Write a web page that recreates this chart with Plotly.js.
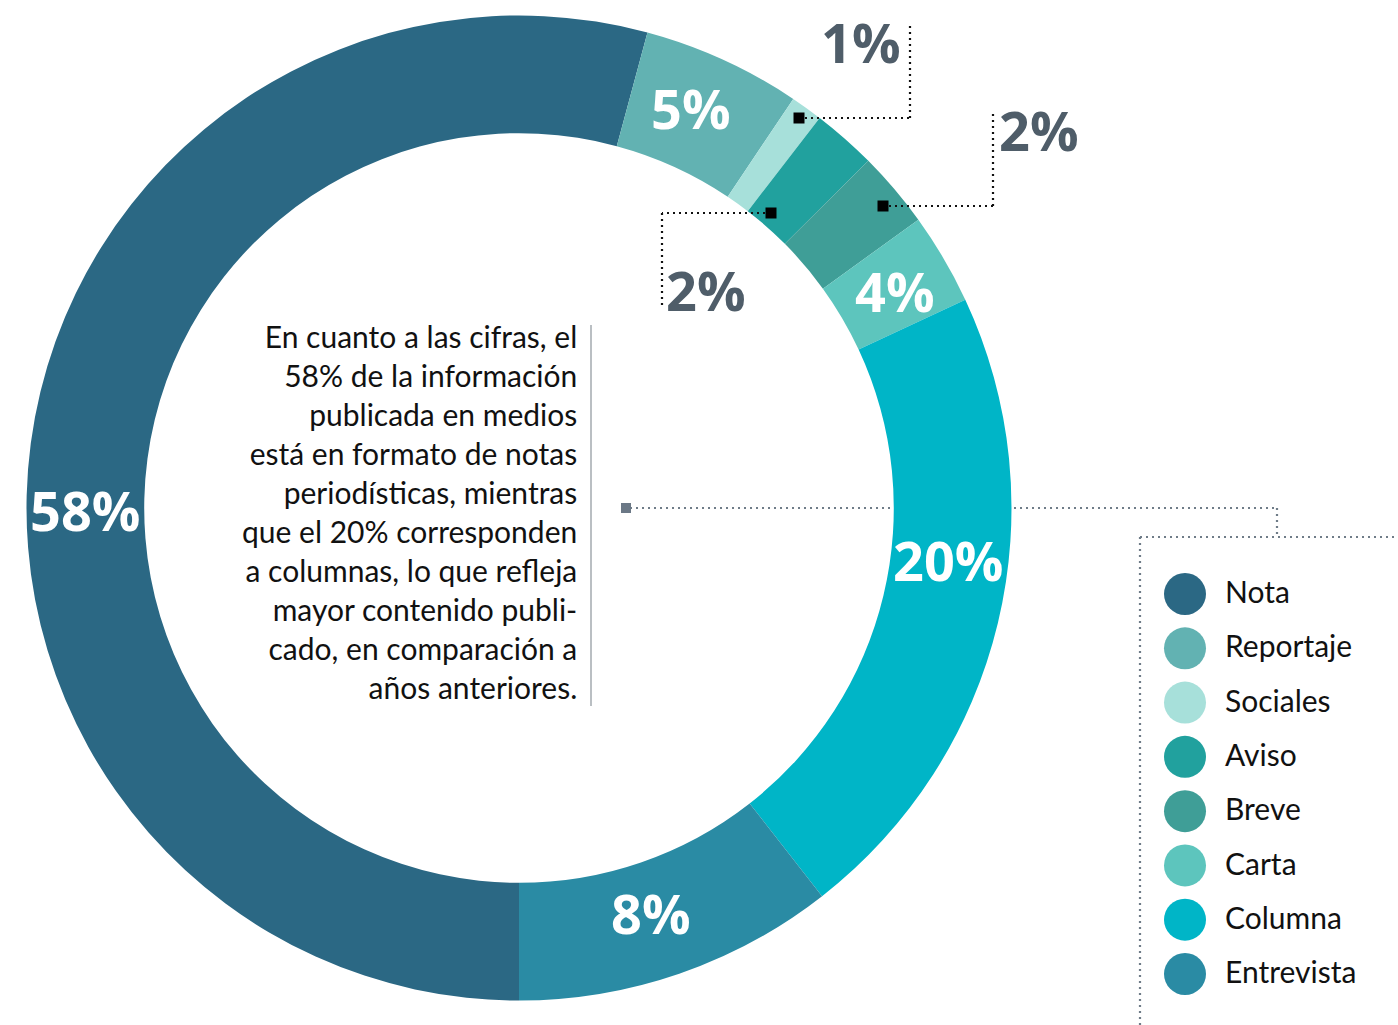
<!DOCTYPE html>
<html><head><meta charset="utf-8">
<script src="https://cdn.plot.ly/plotly-3.0.1.min.js"></script>
<style>html,body{margin:0;padding:0;background:#fff;overflow:hidden}</style>
</head><body><div id="chart" style="width:1398px;height:1025px"></div>
<script>
// Categories, in clockwise order starting at 6 o'clock
const categories = ['Nota','Reportaje','Sociales','Aviso','Breve','Carta','Columna','Entrevista'];
const shares = [54.2, 5.2, 1.05, 2.1, 2.5, 3.0, 21.4, 10.55];
// Percent labels printed on the chart
const pctLabels = ['58%','5%','1%','2%','2%','4%','20%','8%'];
const colors = ['#2b6884','#62b2b2','#a7e0da','#21a19e','#3f9e97','#5dc5bd','#00b5c7','#2a8ba4'];
const legendRows = [0,1,2,3,4,5,6,7];
const noteLines = ['En cuanto a las cifras, el','58% de la información','publicada en medios',
  'está en formato de notas','periodísticas, mientras','que el 20% corresponden',
  'a columnas, lo que refleja','mayor contenido publi-','cado, en comparación a','años anteriores.'];

const W = 1398, H = 1025;
const px = x => x / W, py = y => 1 - y / H;
const numFont = 'Open Sans, sans-serif';
const txtFont = 'Lato, sans-serif';
const smallIdx = [2,3,4];

const pie = {
  type: 'pie', values: shares, labels: categories, sort: false,
  direction: 'clockwise', rotation: 180, hole: 0.761,
  marker: {colors: colors, line: {width: 0}},
  textinfo: 'none',
  hoverinfo: 'label+percent', showlegend: false,
  domain: {x: [px(26.5), px(1011.5)], y: [py(1000.5), py(15.5)]}
};

const legMarkers = {
  type: 'scatter', mode: 'markers', x: legendRows.map(() => 0), y: legendRows,
  marker: {size: 42, color: colors, line: {width: 0}}, cliponaxis: false,
  hoverinfo: 'skip', showlegend: false, xaxis: 'x', yaxis: 'y'
};
const legText = {
  type: 'scatter', mode: 'text', x: legendRows.map(() => 40), y: legendRows.map(r => r + 0.03),
  text: categories, textposition: 'middle right',
  textfont: {family: txtFont, size: 30, color: '#111111'}, cliponaxis: false,
  hoverinfo: 'skip', showlegend: false, xaxis: 'x', yaxis: 'y'
};

const dotBlack = {color: '#111111', width: 2.2, dash: '2px,4px'};
const dotGray = {color: '#6f7c88', width: 2.2, dash: '2px,4px'};
function seg(x0,y0,x1,y1,line,layer){return {type:'line',xref:'paper',yref:'paper',x0:px(x0),y0:py(y0),x1:px(x1),y1:py(y1),line:line,layer:layer||'above'};}
function sq(x,y,s,c){return {type:'rect',xref:'paper',yref:'paper',x0:px(x-s/2),x1:px(x+s/2),y0:py(y+s/2),y1:py(y-s/2),fillcolor:c,line:{width:0},layer:'above'};}

const shapes = [
  // connector from the note to the legend box
  seg(630,508,1277,508,dotGray,'below'),
  seg(1277,508,1277,537,dotGray),
  seg(1140,537,1398,537,dotGray),
  seg(1140,537,1140,1025,dotGray),
  sq(626,508,10,'#6b7886'),
  // note divider
  seg(591,325,591,706,{color:'#8c949b',width:1.2}),
  // leader lines for the small slices
  seg(799,118,910,118,dotBlack), seg(910,118,910,22,dotBlack), sq(799,118,11,'#000000'),
  seg(883,206,993,206,dotBlack), seg(993,206,993,112,dotBlack), sq(883,206,11,'#000000'),
  seg(771,213,662,213,dotBlack), seg(662,213,662,307,dotBlack), sq(771,213,11,'#000000')
];

// label anchor points (label placement only)
const labelPos = [[85,510],[691,108],[861,42],[1039,130],[706,290],[895,291],[948,560],[651,913]];
const annotations = categories.map((c,i) => ({
  xref:'paper', yref:'paper', x: px(labelPos[i][0]), y: py(labelPos[i][1]),
  xanchor:'center', yanchor:'middle', showarrow:false, text: pctLabels[i],
  font:{family:numFont, size:54, weight:700,
        color: smallIdx.includes(i) ? '#4f5d69' : '#ffffff'}
}));
annotations.push({
  xref:'paper', yref:'paper', x: px(579), y: py(511), xanchor:'right', yanchor:'middle',
  align:'right', showarrow:false, text: noteLines.join('<br>'),
  font:{family:txtFont, size:30, color:'#111111'}
});

// legend rows: y=0 at 594px, y=7 at 974px (54.29 px per row), padded range
const rowPx = (974 - 594) / 7;
const layout = {
  width: W, height: H, margin: {l:0,r:0,t:0,b:0},
  paper_bgcolor: '#ffffff', plot_bgcolor: 'rgba(0,0,0,0)', showlegend: false,
  xaxis: {domain: [px(1185), 1], range: [0, 213], visible: false, fixedrange: true},
  yaxis: {domain: [py(974 + 0.4*rowPx), py(594 - 0.4*rowPx)], range: [7.4, -0.4], visible: false, fixedrange: true},
  shapes: shapes, annotations: annotations
};

Plotly.newPlot('chart', [pie, legMarkers, legText], layout, {displayModeBar:false, staticPlot:true});
</script></body></html>
